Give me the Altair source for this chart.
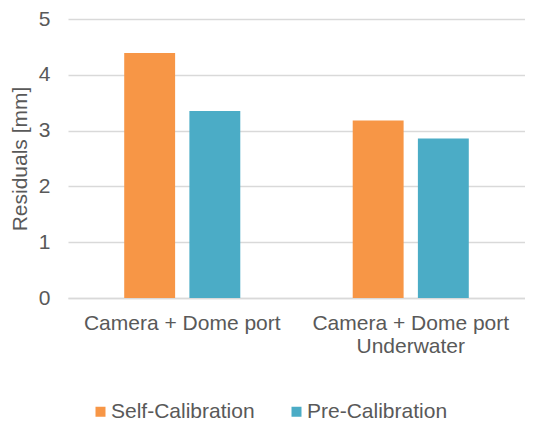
import altair as alt
import pandas as pd

categories = ["Camera + Dome port", "Camera + Dome port|Underwater"]
series = ["Self-Calibration", "Pre-Calibration"]
self_vals = [4.39, 3.18]
pre_vals = [3.35, 2.86]
colors = ["#F79646", "#4BACC6"]
y_ticks = [0, 1, 2, 3, 4, 5]

rows = []
for c, s, p in zip(categories, self_vals, pre_vals):
    rows.append({"category": c, "series": series[0], "value": s})
    rows.append({"category": c, "series": series[1], "value": p})
df = pd.DataFrame(rows)

TXT = "#595959"
GRID = "#d9d9d9"
FS = 21

chart = alt.Chart(df).mark_bar().encode(
    x=alt.X(
        "category:N",
        sort=categories,
        scale=alt.Scale(paddingInner=0.492, paddingOuter=0.246),
        axis=alt.Axis(
            title=None,
            labelAngle=0,
            labelExpr="split(datum.label, '|')",
            labelFontSize=FS,
            labelColor=TXT,
            labelLineHeight=23,
            labelPadding=14,
            labelLimit=0,
            domainColor=GRID,
            domainWidth=1.5,
            ticks=False,
            tickSize=0,
        ),
    ),
    xOffset=alt.XOffset(
        "series:N", sort=series, scale=alt.Scale(paddingInner=0.219, paddingOuter=0)
    ),
    y=alt.Y(
        "value:Q",
        scale=alt.Scale(domain=[0, 5]),
        axis=alt.Axis(
            values=y_ticks,
            title="Residuals [mm]",
            titleFontSize=FS,
            titleFontWeight="normal",
            titleColor=TXT,
            titlePadding=8,
            labelFontSize=FS,
            labelColor=TXT,
            labelPadding=18,
            grid=True,
            gridColor=GRID,
            gridWidth=1.5,
            domain=False,
            ticks=False,
            tickSize=0,
        ),
    ),
    color=alt.Color(
        "series:N",
        sort=series,
        scale=alt.Scale(domain=series, range=colors),
        legend=alt.Legend(
            title=None,
            orient="none",
            legendX=22,
            legendY=382,
            direction="horizontal",
            symbolType="square",
            symbolSize=100,
            symbolStrokeWidth=0,
            labelFontSize=FS,
            labelColor=TXT,
            labelOffset=0,
            columnPadding=31,
            padding=0,
        ),
    ),
).properties(
    width=457,
    height=279,
    autosize=alt.AutoSizeParams(type="none"),
    padding={"left": 60, "top": 11, "right": 0, "bottom": 125},
).configure(
    font="Liberation Sans",
    background="white",
).configure_view(stroke=None)

chart.save("out.html", embed_options={"renderer": "svg", "actions": False})
